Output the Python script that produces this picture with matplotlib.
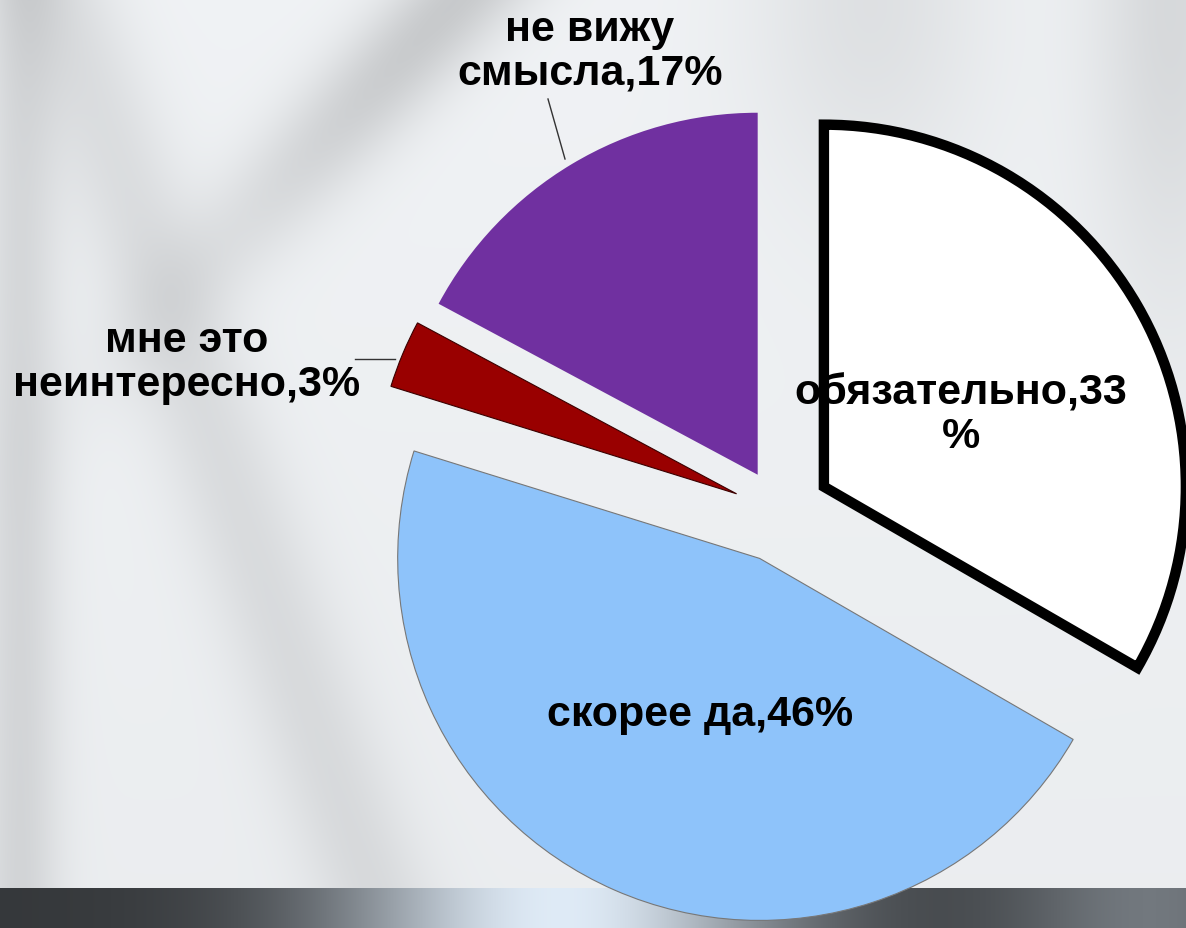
import numpy as np
import matplotlib.pyplot as plt

# данные опроса
labels = ["обязательно,33\n%", "скорее да,46%", "мне это\nнеинтересно,3%", "не вижу\nсмысла,17%"]
values = [33, 46, 3, 17]
colors = ["#ffffff", "#8ec3fa", "#990000", "#7030a0"]
explode = [0.14, 0.14, 0.13, 0.12]

W, H = 1186, 929
fig = plt.figure(figsize=(W / 100, H / 100), dpi=100)
ax = fig.add_axes([0, 0, 1, 1])

# фон (размытая фотография) - приближение градиентом
yy, xx = np.mgrid[0:H, 0:W]
bg = 0.96 - 0.02 * (yy / H)
bg -= 0.16 * np.exp(-((xx - 0.9 * (H - yy) + 380) / 70.0) ** 2) * np.exp(-(yy / 260.0) ** 2)
bg -= 0.08 * np.exp(-((xx - 0.35 * yy - 60) / 60.0) ** 2)
bg -= 0.10 * np.exp(-((xx - 1170) / 80.0) ** 2) * np.exp(-(yy / 300.0) ** 2)
bg -= 0.10 * np.exp(-((xx - 20) / 40.0) ** 2)
bg -= 0.07 * np.exp(-((xx - 870) / 120.0) ** 2) * np.exp(-(yy / 200.0) ** 2)
bg = np.clip(bg, 0, 1)
rgb = np.dstack([bg * 0.98, bg * 0.99, bg * 1.0])
band = yy > 888
dark = 0.22 + 0.70 * np.exp(-((xx - 560) / 230.0) ** 2) + 0.25 * np.exp(-((xx - 1150) / 150.0) ** 2)
dark = np.clip(dark, 0, 0.95)
rgb[band] = np.dstack([dark * 0.95, dark * 1.0, dark * 1.05])[band]
rgb = np.clip(rgb, 0, 1)
ax.imshow(rgb, extent=(0, W, 0, H), origin="upper", zorder=0)

# круговая диаграмма
cx, cy, r = 780, H - 513, 362
wedges, _ = ax.pie(values, colors=colors, explode=[e * r for e in explode],
                   startangle=90, counterclock=False, radius=r, center=(cx, cy),
                   frame=True)
wedges[0].set_edgecolor("black")
wedges[0].set_linewidth(7.5)
wedges[0].set_joinstyle("miter")
wedges[1].set_edgecolor("#777777")
wedges[1].set_linewidth(0.8)
wedges[2].set_edgecolor("#3a0000")
wedges[2].set_linewidth(0.8)
for w in wedges:
    w.set_zorder(2)

# подписи
fs = 31
font = {"family": ["Liberation Sans", "DejaVu Sans"], "weight": "bold", "size": fs}
ax.text(961, H - 415, labels[0], ha="center", va="center", color="black",
        linespacing=1.1, zorder=4, **font)
ax.text(700, H - 715, labels[1], ha="center", va="center", color="black", zorder=4, **font)
ax.text(187, H - 363, labels[2], ha="center", va="center", color="black",
        linespacing=1.1, zorder=4, **font)
ax.text(590, H - 52, labels[3], ha="center", va="center", color="black",
        linespacing=1.1, zorder=4, **font)

# выноски
ax.plot([565, 548], [H - 160, H - 100], color="#333333", lw=1, zorder=3)
ax.plot([355, 395], [H - 360, H - 360], color="#333333", lw=1, zorder=3)

ax.set_xlim(0, W)
ax.set_ylim(0, H)
ax.set_aspect("auto")
ax.axis("off")

plt.savefig("out.png", dpi=100)
